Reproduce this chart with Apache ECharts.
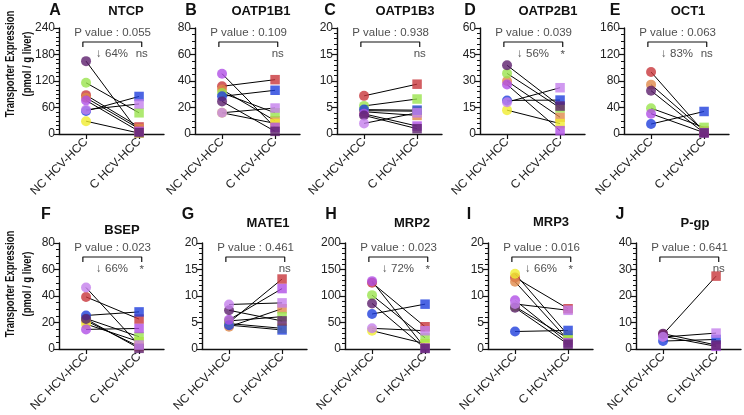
<!DOCTYPE html>
<html>
<head>
<meta charset="utf-8">
<script src="https://cdn.jsdelivr.net/npm/echarts@6/dist/echarts.min.js"></script>
<style>
  html, body { margin: 0; padding: 0; background: #fff; }
  #chart { width: 744px; height: 415px; }
</style>
</head>
<body>
<div id="chart"></div>
<script>
// panel data ---------------------------------------------------------------
const letters = ['A', 'B', 'C', 'D', 'E', 'F', 'G', 'H', 'I', 'J'];
const transporters = ['NTCP', 'OATP1B1', 'OATP1B3', 'OATP2B1', 'OCT1', 'BSEP', 'MATE1', 'MRP2', 'MRP3', 'P-gp'];
const categories = ['NC HCV-HCC', 'C HCV-HCC'];
const yMax = [240, 80, 20, 60, 160, 80, 20, 200, 20, 40];
const yStep = [60, 20, 5, 15, 40, 20, 5, 50, 5, 10];
const pValues = ['0.055', '0.109', '0.938', '0.039', '0.063', '0.023', '0.461', '0.023', '0.016', '0.641'];
const decrease = ['64%', '', '', '56%', '83%', '66%', '', '72%', '66%', ''];
const signif = ['ns', 'ns', 'ns', '*', 'ns', '*', 'ns', '*', '*', 'ns'];

// patients: red, orange, yellow, green, blue, violet, dark purple, lavender
const patientColors = ['#c8363b', '#e0894a', '#f0ec2e', '#9ae34e', '#1f3fdc', '#b04fe6', '#5d1f6d', '#c47fec'];

// non-cancerous tissue (pmol / g liver)
const ncValues = [
    [88, 82, 29, 116, 52, 76, 165, 55],
    [36, 33.5, 16, 31, 28.4, 45.5, 24.6, 16],
    [7.2, 4.2, 4.4, 5.3, 4.6, 3.8, 3.5, 2.0],
    [null, 30, 13.5, 34.3, 19, 28, 38.9, 18],
    [93.6, 74.5, null, 39, 15, 30.7, 65.4, null],
    [39.3, 21.3, 18.8, 23, 25.3, 14.8, 22.6, 46.4],
    [5.0, 4.2, 4.8, 5.3, 4.5, 5.5, 7.3, 8.4],
    [125, null, 34.5, 101.6, 66, 128, 86, 39],
    [13.5, 12.7, 14.2, 8.0, 3.3, 9.2, 7.8, 8.5],
    [5.5, null, null, null, 3.0, 4.8, 5.8, 4.5]
];
// cancerous tissue
const cValues = [
    [16, 12, 2, 48, 85, 6, 3, 68],
    [41, 10, 8, 16, 33, 5, 2, 19.6],
    [9.4, 3.5, 4.3, 6.6, 4.5, 1.5, 1.0, 4.0],
    [null, 9.5, 5.9, 14.8, 19.2, 1.9, 15.8, 26.2],
    [3, 5, null, 10, 34, 2, 1.5, null],
    [22.6, 1.8, 5.5, 9.3, 28, 15.5, 0.5, 3],
    [13.2, 7.6, 3.9, 6.1, 3.6, 11.4, 5.3, 8.7],
    [42, null, 10, 21, 84.6, 2, 1, 34.5],
    [7.6, 1.7, 2.6, 2.0, 3.5, 1.2, 0.9, 7.3],
    [27.5, null, null, null, 3.6, 1.0, 1.5, 6.0]
];

// layout ---------------------------------------------------------------------
const gridLeft = [59, 195, 337, 480, 624, 59, 202, 345, 488, 636];
const gridTop = [28, 243];
const minorSplit = [6, 4, 5, 5, 4, 4, 5, 5, 5, 5];
const letterPos = [[55, 11], [191, 11], [330, 11], [470, 11], [615, 11], [46, 215], [188, 215], [331, 215], [469, 215], [620, 215]];
const titlePos = [[126, 11], [261, 11], [405, 11], [548, 11], [688, 11], [122, 230], [268, 223], [412, 223], [551, 222], [695, 223]];
const FONT = 'Liberation Sans, Arial, sans-serif';

var chart = echarts.init(document.getElementById('chart'));

var grids = [], xAxes = [], yAxes = [], series = [], graphics = [];

for (let p = 0; p < letters.length; p++) {
    let row = p < 5 ? 0 : 1;
    let m = yMax[p];
    grids.push({left: gridLeft[p], top: gridTop[row], width: 105, height: 106});
    xAxes.push({
        type: 'value', gridIndex: p, min: -0.51, max: 1.47,
        splitLine: {show: false},
        axisLine: {show: true, onZero: false, lineStyle: {color: '#111', width: 1.4}},
        axisTick: {show: true, length: 5, customValues: [0, 1], lineStyle: {color: '#111', width: 1.2}},
        axisLabel: {
            customValues: [0, 1], rotate: 45, margin: 6, fontSize: 12, color: '#222', fontFamily: FONT,
            formatter: function (v) { return categories[Math.round(v)]; }
        }
    });
    yAxes.push({
        type: 'value', gridIndex: p, min: 0, max: m, interval: yStep[p],
        splitLine: {show: false},
        axisLine: {show: true, onZero: false, lineStyle: {color: '#111', width: 1.4}},
        axisTick: {show: true, length: 5, lineStyle: {color: '#111', width: 1.2}},
        minorTick: {show: true, splitNumber: minorSplit[p], length: 3, lineStyle: {color: '#111', width: 1}},
        axisLabel: {fontSize: 12, color: '#222', margin: 4, fontFamily: FONT}
    });

    // paired lines
    for (let i = 0; i < patientColors.length; i++) {
        if (ncValues[p][i] == null || cValues[p][i] == null) continue;
        series.push({
            type: 'line', xAxisIndex: p, yAxisIndex: p, silent: true, symbol: 'none',
            lineStyle: {color: '#000', width: 1},
            data: [[0, ncValues[p][i]], [1, cValues[p][i]]]
        });
    }
    // NC circles, C squares
    let ncPts = [], cPts = [];
    for (let i = 0; i < patientColors.length; i++) {
        if (ncValues[p][i] != null) ncPts.push({value: [0, ncValues[p][i]], itemStyle: {color: patientColors[i]}});
        if (cValues[p][i] != null) cPts.push({value: [1, cValues[p][i]], itemStyle: {color: patientColors[i]}});
    }
    series.push({type: 'scatter', xAxisIndex: p, yAxisIndex: p, symbol: 'circle', symbolSize: 10, data: ncPts, z: 3});
    series.push({type: 'scatter', xAxisIndex: p, yAxisIndex: p, symbol: 'rect', symbolSize: 9.5, data: cPts, z: 3});

    // bracket
    series.push({
        type: 'line', xAxisIndex: p, yAxisIndex: p, silent: true, symbol: 'none',
        lineStyle: {color: '#111', width: 1.2},
        data: [[-0.06, 0.82 * m], [-0.06, 0.868 * m], [1.05, 0.868 * m], [1.05, 0.82 * m]]
    });
    // annotation texts
    let notes = [{value: [0.5, 0.955 * m], text: 'P value : ' + pValues[p]}];
    if (decrease[p]) notes.push({value: [0.49, 0.76 * m], text: '\u2193 ' + decrease[p]});
    notes.push({value: [1.05, signif[p] === '*' ? 0.745 * m : 0.76 * m], text: signif[p]});
    series.push({
        type: 'scatter', xAxisIndex: p, yAxisIndex: p, silent: true, symbolSize: 1,
        itemStyle: {color: 'rgba(0,0,0,0)'},
        label: {
            show: true, position: 'inside', color: '#222', fontSize: 11.5, fontFamily: FONT,
            formatter: function (d) { return d.data.text; }
        },
        data: notes
    });

    graphics.push({
        type: 'text', x: letterPos[p][0], y: letterPos[p][1],
        style: {text: letters[p], font: 'bold 16px ' + FONT, fill: '#111', textAlign: 'center', textVerticalAlign: 'middle'}
    });
    graphics.push({
        type: 'text', x: titlePos[p][0], y: titlePos[p][1],
        style: {text: transporters[p], font: 'bold 13px ' + FONT, fill: '#111', textAlign: 'center', textVerticalAlign: 'middle'}
    });
}

// y axis titles
[64, 284].forEach(function (cy) {
    graphics.push({
        type: 'text', x: 19, y: cy, rotation: Math.PI / 2, scaleX: 0.76,
        style: {
            text: 'Transporter Expression\n(pmol / g liver)', font: 'bold 12.5px ' + FONT, fill: '#111',
            textAlign: 'center', textVerticalAlign: 'middle', lineHeight: 17
        }
    });
});

option = {
    animation: false,
    backgroundColor: '#fff',
    grid: grids,
    xAxis: xAxes,
    yAxis: yAxes,
    series: series,
    graphic: graphics
};
chart.setOption(option);
</script>
</body>
</html>
